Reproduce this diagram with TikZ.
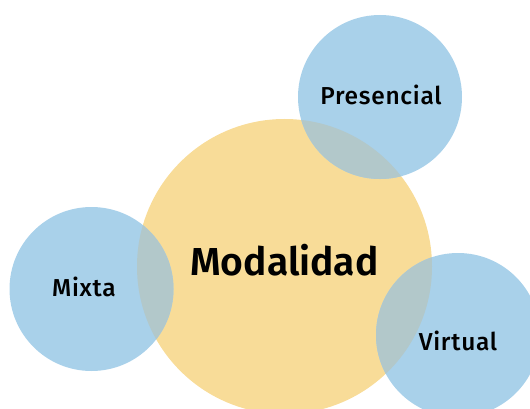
\documentclass[tikz,border=0pt]{standalone}
\usepackage{fontspec}
\setmainfont{Fira Sans}[UprightFont=* SemiBold]
\newfontfamily\lblfont{Fira Sans}[UprightFont=* Medium, LetterSpace=3]
\definecolor{yel}{HTML}{F8DC98}
\definecolor{blu}{HTML}{A9D1EA}
\definecolor{ovl}{HTML}{B2C8CA}
\tikzset{
  lbl/.style={text=black, inner sep=0pt, font=\lblfont\fontsize{24.5}{28}\selectfont},
  big/.style={text=black, inner sep=0pt, font=\fontsize{39}{46}\selectfont}
}
\begin{document}
\begin{tikzpicture}[x=1pt,y=-1pt]
\useasboundingbox (0,0) rectangle (530,409);
\clip (0,0) rectangle (530,409);
\fill[yel] (284.5,266.5) circle (147.5);
\fill[blu] (380,97) circle (82);
\fill[blu] (91.5,289) circle (82);
\fill[blu] (458,335) circle (82);
\begin{scope}
\clip (284.5,266.5) circle (147.5);
\fill[ovl] (380,97) circle (82);
\fill[ovl] (91.5,289) circle (82);
\fill[ovl] (458,335) circle (82);
\end{scope}
\node[big] (mod) at (284.5,260) {Modalidad};
\node[lbl] (pre) at (381,95) {Presencial};
\node[lbl] (mix) at (84,287) {Mixta};
\node[lbl] (vir) at (458,341) {Virtual};
\end{tikzpicture}
\end{document}
